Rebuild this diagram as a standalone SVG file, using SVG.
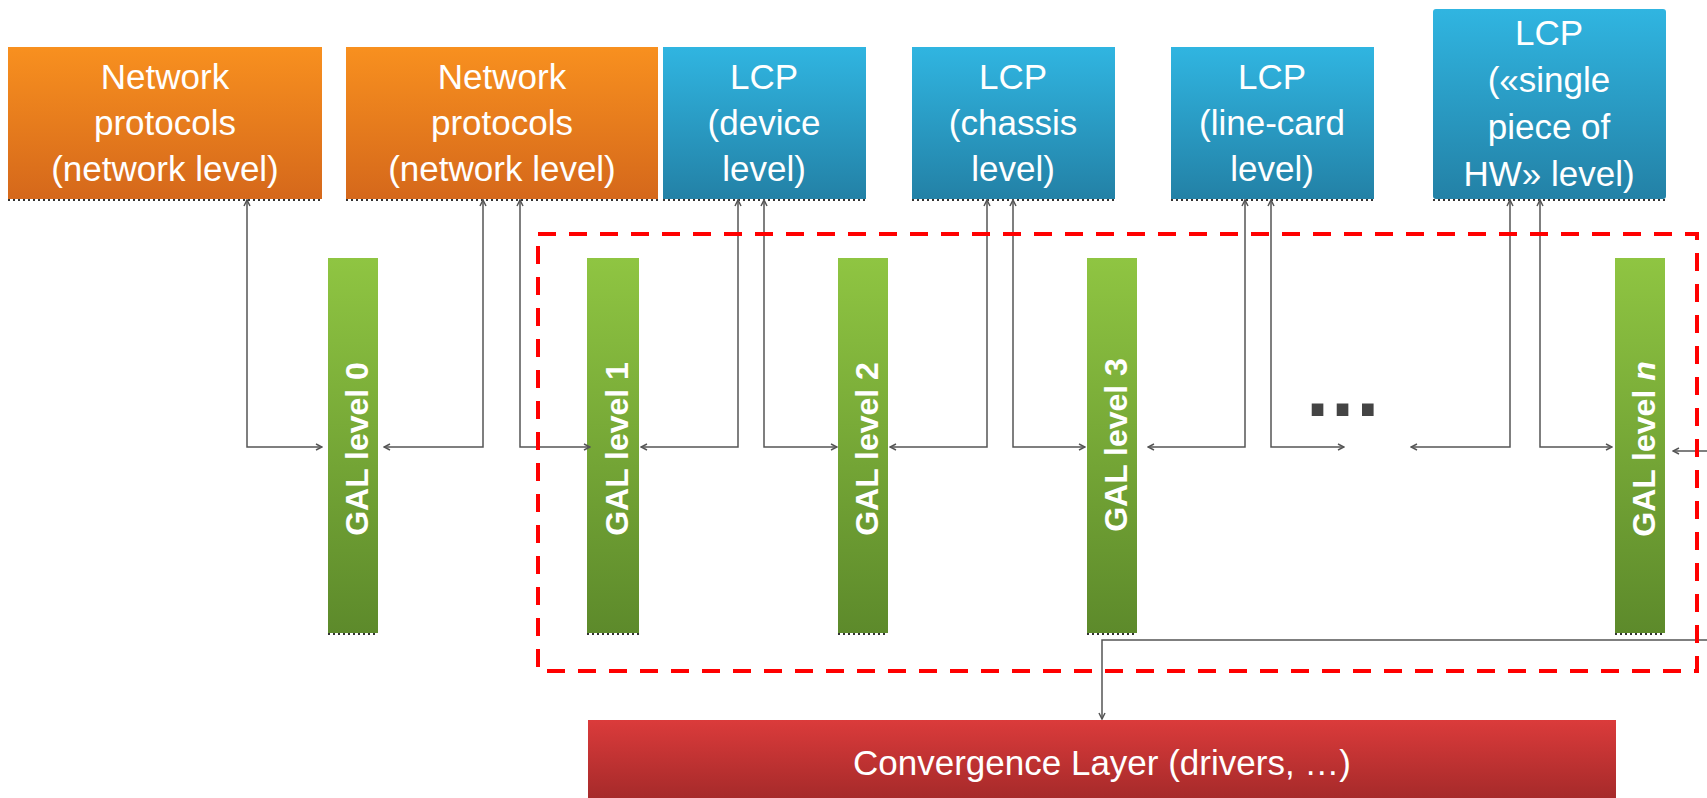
<svg xmlns="http://www.w3.org/2000/svg" width="1707" height="798" viewBox="0 0 1707 798">
<defs>
<linearGradient id="gOr" x1="0" y1="0" x2="0" y2="1"><stop offset="0" stop-color="#F8901F"/><stop offset="1" stop-color="#D5681B"/></linearGradient>
<linearGradient id="gBl" x1="0" y1="0" x2="0" y2="1"><stop offset="0" stop-color="#30B5E1"/><stop offset="1" stop-color="#2381A6"/></linearGradient>
<linearGradient id="gGr" x1="0" y1="0" x2="0" y2="1"><stop offset="0" stop-color="#8FC542"/><stop offset="1" stop-color="#5D8A2B"/></linearGradient>
<linearGradient id="gRd" x1="0" y1="0" x2="0" y2="1"><stop offset="0" stop-color="#DB3B3B"/><stop offset="1" stop-color="#A62A2A"/></linearGradient>
<marker id="ah" viewBox="0 0 8 8" refX="7" refY="4" markerWidth="8" markerHeight="8" markerUnits="userSpaceOnUse" orient="auto-start-reverse">
<path d="M1,1 L7,4 L1,7" fill="none" stroke="#555" stroke-width="1.5"/>
</marker>
<style>
.or{fill:url(#gOr)}
.bl{fill:url(#gBl)}
.gr{fill:url(#gGr)}
.rd{fill:url(#gRd)}
.sh{stroke:#333;stroke-width:2;stroke-dasharray:2 3;fill:none}
.t{font-family:"Liberation Sans",Arial,sans-serif;font-size:35px;fill:#fff;text-anchor:middle}
.g{font-family:"Liberation Sans",Arial,sans-serif;font-size:32px;font-weight:bold;fill:#fff;text-anchor:middle}
.c{fill:none;stroke:#555;stroke-width:1.5;marker-start:url(#ah);marker-end:url(#ah)}
.c1{fill:none;stroke:#555;stroke-width:1.5;marker-end:url(#ah)}
</style>
</defs>
<rect width="1707" height="798" fill="#fff"/>

<g id="np1">
<rect class="or" x="8" y="47" width="314" height="152"/>
<line class="sh" x1="8" y1="200" x2="322" y2="200"/>
<text class="t" x="165" y="89">Network</text>
<text class="t" x="165" y="135">protocols</text>
<text class="t" x="165" y="181">(network level)</text>
</g>
<g id="np2">
<rect class="or" x="346" y="47" width="312" height="152"/>
<line class="sh" x1="346" y1="200" x2="658" y2="200"/>
<text class="t" x="502" y="89">Network</text>
<text class="t" x="502" y="135">protocols</text>
<text class="t" x="502" y="181">(network level)</text>
</g>
<g id="lcp-device">
<rect class="bl" x="663" y="47" width="203" height="152"/>
<line class="sh" x1="663" y1="200" x2="866" y2="200"/>
<text class="t" x="764" y="89">LCP</text>
<text class="t" x="764" y="135">(device</text>
<text class="t" x="764" y="181">level)</text>
</g>
<g id="lcp-chassis">
<rect class="bl" x="912" y="47" width="203" height="152"/>
<line class="sh" x1="912" y1="200" x2="1115" y2="200"/>
<text class="t" x="1013" y="89">LCP</text>
<text class="t" x="1013" y="135">(chassis</text>
<text class="t" x="1013" y="181">level)</text>
</g>
<g id="lcp-linecard">
<rect class="bl" x="1171" y="47" width="203" height="152"/>
<line class="sh" x1="1171" y1="200" x2="1374" y2="200"/>
<text class="t" x="1272" y="89">LCP</text>
<text class="t" x="1272" y="135">(line-card</text>
<text class="t" x="1272" y="181">level)</text>
</g>
<g id="lcp-single">
<rect class="bl" x="1433" y="9" width="233" height="190" rx="3"/>
<line class="sh" x1="1433" y1="200" x2="1666" y2="200"/>
<text class="t" x="1549" y="45">LCP</text>
<text class="t" x="1549" y="92">(«single</text>
<text class="t" x="1549" y="139">piece of</text>
<text class="t" x="1549" y="186">HW» level)</text>
</g>

<g id="gal0">
<rect class="gr" x="328" y="258" width="50" height="375"/>
<line class="sh" x1="328" y1="634" x2="378" y2="634"/>
<text class="g" transform="translate(368,449) rotate(-90)">GAL level 0</text>
</g>
<g id="gal1">
<rect class="gr" x="587" y="258" width="52" height="375"/>
<line class="sh" x1="587" y1="634" x2="639" y2="634"/>
<text class="g" transform="translate(628,449) rotate(-90)">GAL level 1</text>
</g>
<g id="gal2">
<rect class="gr" x="838" y="258" width="50" height="375"/>
<line class="sh" x1="838" y1="634" x2="888" y2="634"/>
<text class="g" transform="translate(878,449) rotate(-90)">GAL level 2</text>
</g>
<g id="gal3">
<rect class="gr" x="1087" y="258" width="50" height="375"/>
<line class="sh" x1="1087" y1="634" x2="1137" y2="634"/>
<text class="g" transform="translate(1127,445) rotate(-90)">GAL level 3</text>
</g>
<g id="galn">
<rect class="gr" x="1615" y="258" width="50" height="375"/>
<line class="sh" x1="1615" y1="634" x2="1665" y2="634"/>
<text class="g" transform="translate(1655,449) rotate(-90)">GAL level <tspan font-style="italic">n</tspan></text>
</g>

<g id="ellipsis">
<text x="1305" y="416" style="font-family:'DejaVu Sans',sans-serif;font-weight:bold;font-size:66px;fill:#444">...</text>
</g>

<g id="convergence">
<rect class="rd" x="588" y="720" width="1028" height="78"/>
<text class="t" x="1102" y="775">Convergence Layer (drivers, …)</text>
</g>

<g id="connectors">
<path class="c" d="M247,200 V447 H322"/>
<path class="c" d="M384,447 H483 V200"/>
<path class="c" d="M520,200 V447 H590"/>
<path class="c" d="M641,447 H738 V200"/>
<path class="c" d="M764,200 V447 H837"/>
<path class="c" d="M890,447 H987 V200"/>
<path class="c" d="M1013,200 V447 H1085"/>
<path class="c" d="M1148,447 H1245 V200"/>
<path class="c" d="M1271,200 V447 H1344"/>
<path class="c" d="M1411,447 H1510 V200"/>
<path class="c" d="M1540,200 V447 H1612"/>
<path class="c1" d="M1707,451 H1673"/>
<path class="c1" d="M1707,640 H1102 V719"/>
</g>

<g id="group-box">
<rect x="538" y="234" width="1159" height="437" fill="none" stroke="#FF0000" stroke-width="4" stroke-dasharray="18 13"/>
</g>
</svg>
